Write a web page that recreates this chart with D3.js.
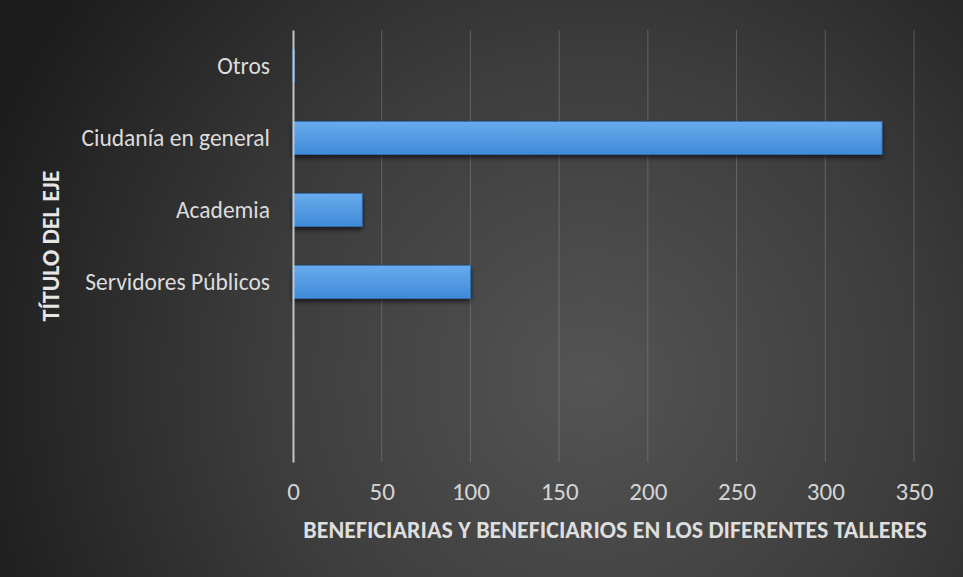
<!DOCTYPE html>
<html>
<head>
<meta charset="utf-8">
<script src="https://cdn.jsdelivr.net/npm/d3@7"></script>
<style>
  body { margin: 0; background: #2a2a2a; }
  svg { display: block; }
</style>
</head>
<body>
<svg></svg>
<script>
const width = 963;
const height = 577;

// data, top to bottom as drawn
const categories = ['Otros', 'Ciudanía en general', 'Academia', 'Servidores Públicos', '', ' '];
const values = [1, 332, 39, 100, null, null];
const xTicks = [0, 50, 100, 150, 200, 250, 300, 350];

const margin = {left: 293, right: 49, top: 30, bottom: 115};
const font = 'Carlito, "Open Sans", sans-serif';

const svg = d3.select('svg')
  .attr('width', width)
  .attr('height', height);

const defs = svg.append('defs');

const bg = defs.append('radialGradient')
  .attr('id', 'bg')
  .attr('gradientUnits', 'userSpaceOnUse')
  .attr('cx', 590).attr('cy', 380).attr('r', 640);
bg.append('stop').attr('offset', '0%').attr('stop-color', '#545454');
bg.append('stop').attr('offset', '50%').attr('stop-color', '#3d3d3d');
bg.append('stop').attr('offset', '100%').attr('stop-color', '#1d1d1d');

const barFill = defs.append('linearGradient')
  .attr('id', 'barFill')
  .attr('x1', 0).attr('y1', 0).attr('x2', 0).attr('y2', 1);
barFill.append('stop').attr('offset', '0%').attr('stop-color', '#68acec');
barFill.append('stop').attr('offset', '100%').attr('stop-color', '#3f8ad8');

const shadow = defs.append('filter')
  .attr('id', 'shadow')
  .attr('x', '-5%').attr('y', '-30%').attr('width', '110%').attr('height', '170%');
shadow.append('feDropShadow')
  .attr('dx', 0).attr('dy', 3).attr('stdDeviation', 2.5)
  .attr('flood-color', '#000').attr('flood-opacity', 0.6);

svg.append('rect')
  .attr('width', width)
  .attr('height', height)
  .attr('fill', 'url(#bg)');

const xScale = d3.scaleLinear()
  .domain([0, 350])
  .range([margin.left, 914]);

const yScale = d3.scaleBand()
  .domain(categories)
  .range([margin.top, height - margin.bottom])
  .paddingInner(0.54)
  .paddingOuter(0.27);

// vertical gridlines
svg.append('g')
  .selectAll('line')
  .data(xTicks.slice(1))
  .join('line')
  .attr('x1', d => xScale(d))
  .attr('x2', d => xScale(d))
  .attr('y1', margin.top)
  .attr('y2', height - margin.bottom)
  .attr('stroke', '#8a8a8a')
  .attr('stroke-opacity', 0.5)
  .attr('stroke-width', 1);

// bars
svg.append('g')
  .selectAll('rect')
  .data(values.map((v, i) => ({cat: categories[i], v})).filter(d => d.v !== null))
  .join('rect')
  .attr('x', xScale(0))
  .attr('y', d => yScale(d.cat))
  .attr('width', d => xScale(d.v) - xScale(0))
  .attr('height', yScale.bandwidth())
  .attr('fill', 'url(#barFill)')
  .attr('stroke', '#2f6fb5')
  .attr('stroke-width', 0.8)
  .attr('filter', 'url(#shadow)');

// category axis
const yAxis = d3.axisLeft(yScale).tickSize(0).tickPadding(23);
const yG = svg.append('g')
  .attr('transform', `translate(${margin.left}, 0)`)
  .call(yAxis);
yG.select('.domain')
  .attr('stroke', '#c4c4c4')
  .attr('stroke-width', 2);
yG.selectAll('text')
  .attr('fill', '#dcdcdc')
  .attr('font-family', font)
  .attr('font-size', 23.5);

// value axis
const xAxis = d3.axisBottom(xScale).tickValues(xTicks).tickSize(0).tickPadding(20);
const xG = svg.append('g')
  .attr('transform', `translate(0, ${height - margin.bottom})`)
  .call(xAxis);
xG.select('.domain').remove();
xG.selectAll('text')
  .attr('fill', '#d4d4d4')
  .attr('font-family', font)
  .attr('font-size', 25);

// axis titles
svg.append('text')
  .attr('x', 615)
  .attr('y', 538)
  .attr('text-anchor', 'middle')
  .attr('fill', '#dedede')
  .attr('font-family', font)
  .attr('font-weight', 'bold')
  .attr('font-size', 24)
  .text('BENEFICIARIAS Y BENEFICIARIOS EN LOS DIFERENTES TALLERES');

svg.append('text')
  .attr('transform', `translate(59, ${(margin.top + height - margin.bottom) / 2}) rotate(-90)`)
  .attr('text-anchor', 'middle')
  .attr('fill', '#e6e6e6')
  .attr('font-family', font)
  .attr('font-weight', 'bold')
  .attr('font-size', 24)
  .text('TÍTULO DEL EJE');
</script>
</body>
</html>
